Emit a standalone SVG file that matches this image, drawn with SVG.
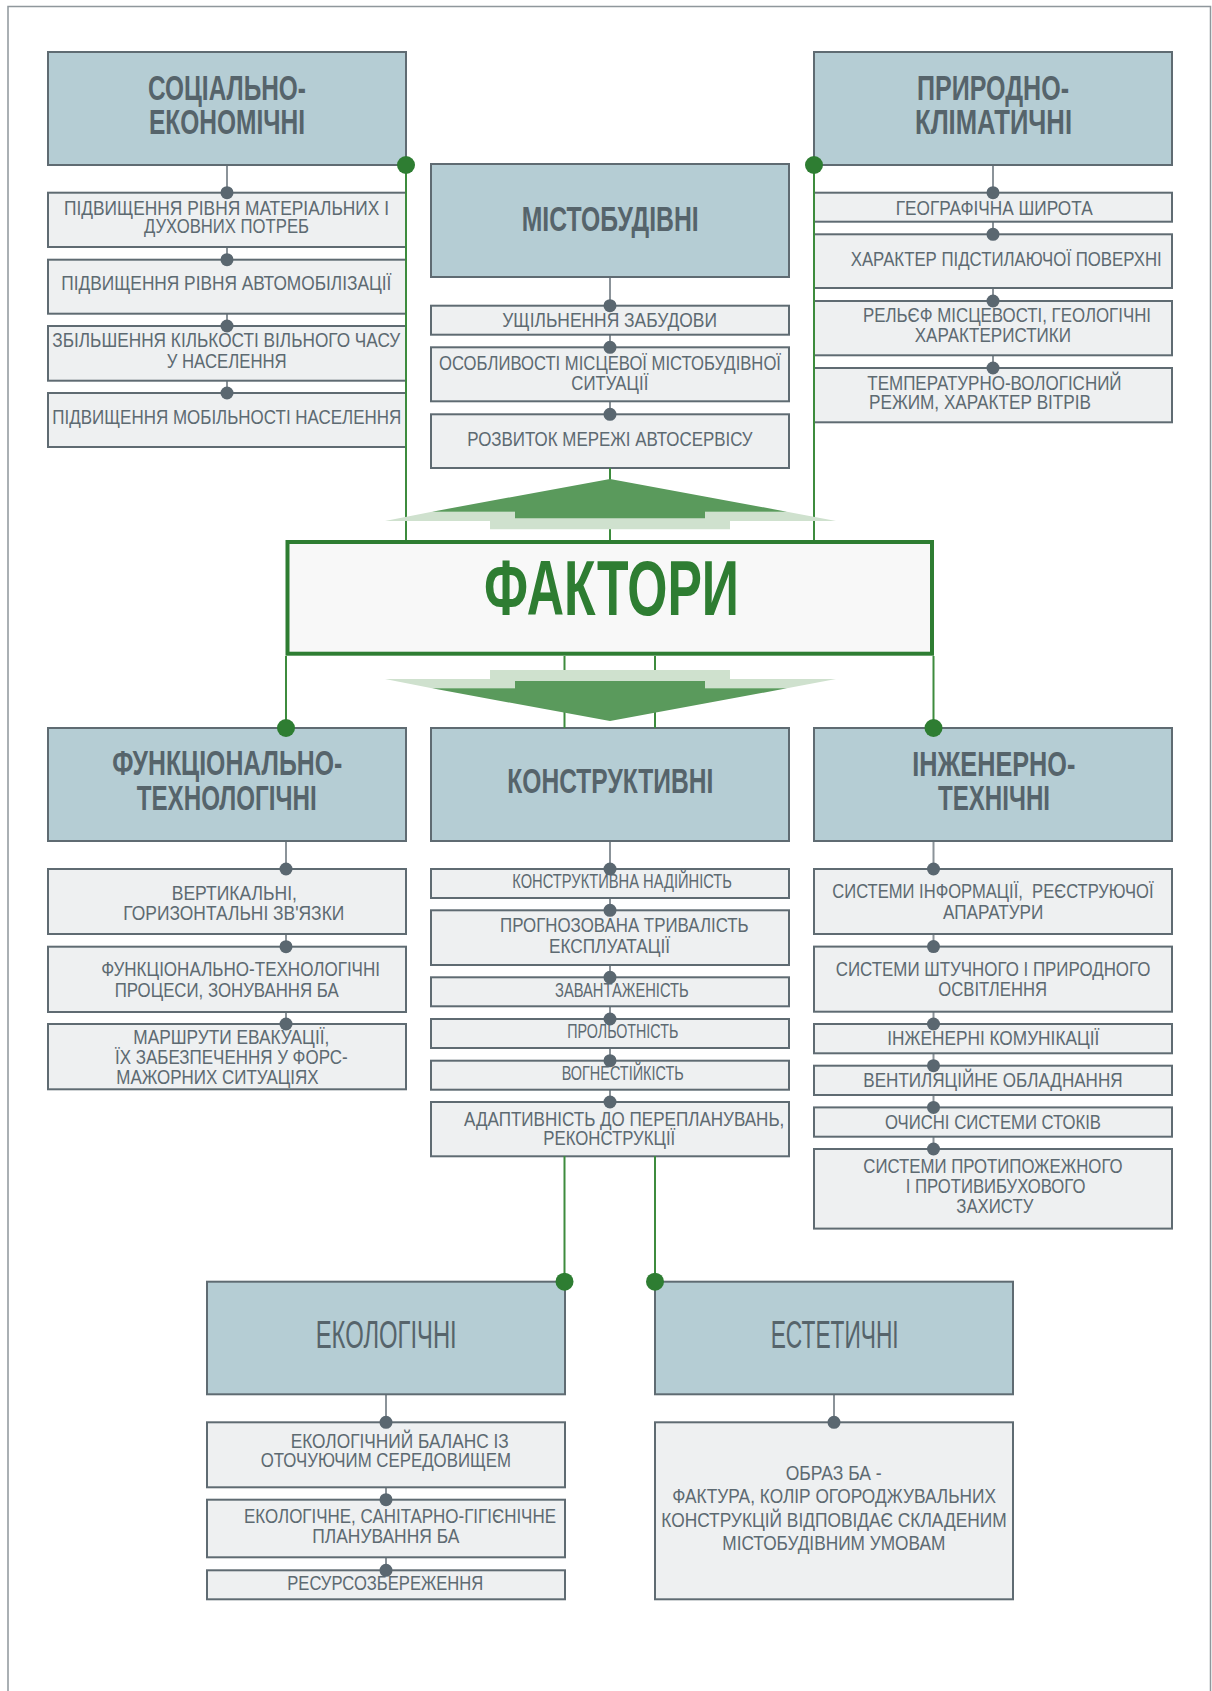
<svg xmlns="http://www.w3.org/2000/svg" width="1212" height="1691" viewBox="0 0 1212 1691">
  <style>
    .hdr { fill: #b5cdd4; stroke: #5f6b72; stroke-width: 2; }
    .sub { fill: #eef0f1; stroke: #5f6b72; stroke-width: 2; }
    .ht { font-family: "Liberation Sans", Arial, sans-serif; font-weight: bold; font-size: 35px; fill: #56646b; }
    .hr { font-family: "Liberation Sans", Arial, sans-serif; font-size: 39px; fill: #56646b; }
    .st { font-family: "Liberation Sans", Arial, sans-serif; font-size: 21px; fill: #5d6a71; }
    .gray { stroke: #8b9399; stroke-width: 2; fill: none; }
    .green { stroke: #3d8b3d; stroke-width: 2; fill: none; }
    .dot { fill: #5a6770; }
    .gdot { fill: #2e7d32; }
    .dark { fill: #5a9a5c; }
    .light { fill: #cfe1ce; }
  </style>

  <!-- page frame -->
  <path d="M8,1691 V6.5 H1210.5 V1691" fill="none" stroke="#8f979c" stroke-width="1.5"/>

  <!-- gray spines behind the item boxes -->
  <g id="connectors-under" class="gray">
    <line x1="227" y1="165" x2="227" y2="393"/>
    <line x1="610" y1="277" x2="610" y2="414"/>
    <line x1="993" y1="165" x2="993" y2="368"/>
    <line x1="286" y1="841" x2="286" y2="1024"/>
    <line x1="610" y1="841" x2="610" y2="1102"/>
    <line x1="933.5" y1="841" x2="933.5" y2="1149"/>
    <line x1="386" y1="1394" x2="386" y2="1570"/>
    <line x1="834" y1="1394" x2="834" y2="1422"/>
  </g>

  <g id="socio-economic">
    <rect class="hdr" x="48" y="52" width="358" height="113"/>
    <text class="ht" x="148" y="100" textLength="158" lengthAdjust="spacingAndGlyphs">СОЦІАЛЬНО-</text>
    <text class="ht" x="149" y="134" textLength="156" lengthAdjust="spacingAndGlyphs">ЕКОНОМІЧНІ</text>
    <rect class="sub" x="48" y="192.7" width="358" height="54.3"/>
    <text class="st" x="64" y="215" textLength="325" lengthAdjust="spacingAndGlyphs">ПІДВИЩЕННЯ РІВНЯ МАТЕРІАЛЬНИХ І</text>
    <text class="st" x="144" y="232.5" textLength="165" lengthAdjust="spacingAndGlyphs">ДУХОВНИХ ПОТРЕБ</text>
    <rect class="sub" x="48" y="259.7" width="358" height="54"/>
    <text class="st" x="61.3" y="290" textLength="330" lengthAdjust="spacingAndGlyphs">ПІДВИЩЕННЯ РІВНЯ АВТОМОБІЛІЗАЦІЇ</text>
    <rect class="sub" x="48" y="326" width="358" height="54.7"/>
    <text class="st" x="52.3" y="347" textLength="348" lengthAdjust="spacingAndGlyphs">ЗБІЛЬШЕННЯ КІЛЬКОСТІ ВІЛЬНОГО ЧАСУ</text>
    <text class="st" x="166.7" y="368" textLength="120" lengthAdjust="spacingAndGlyphs">У НАСЕЛЕННЯ</text>
    <rect class="sub" x="48" y="393" width="358" height="54"/>
    <text class="st" x="52.3" y="423.5" textLength="349" lengthAdjust="spacingAndGlyphs">ПІДВИЩЕННЯ МОБІЛЬНОСТІ НАСЕЛЕННЯ</text>
  </g>

  <g id="urban-planning">
    <rect class="hdr" x="431" y="164" width="358" height="113"/>
    <text class="ht" x="521.7" y="231" textLength="177" lengthAdjust="spacingAndGlyphs">МІСТОБУДІВНІ</text>
    <rect class="sub" x="431" y="305.7" width="358" height="29"/>
    <text class="st" x="502.3" y="326.5" textLength="214.7" lengthAdjust="spacingAndGlyphs">УЩІЛЬНЕННЯ ЗАБУДОВИ</text>
    <rect class="sub" x="431" y="347.3" width="358" height="54"/>
    <text class="st" x="439" y="370" textLength="342" lengthAdjust="spacingAndGlyphs">ОСОБЛИВОСТІ МІСЦЕВОЇ МІСТОБУДІВНОЇ</text>
    <text class="st" x="571.3" y="390" textLength="77" lengthAdjust="spacingAndGlyphs">СИТУАЦІЇ</text>
    <rect class="sub" x="431" y="414.3" width="358" height="53.7"/>
    <text class="st" x="467.3" y="446" textLength="285.3" lengthAdjust="spacingAndGlyphs">РОЗВИТОК МЕРЕЖІ АВТОСЕРВІСУ</text>
  </g>

  <g id="natural-climatic">
    <rect class="hdr" x="814" y="52" width="358" height="113"/>
    <text class="ht" x="917" y="100" textLength="152" lengthAdjust="spacingAndGlyphs">ПРИРОДНО-</text>
    <text class="ht" x="915" y="134" textLength="157" lengthAdjust="spacingAndGlyphs">КЛІМАТИЧНІ</text>
    <rect class="sub" x="814" y="192.7" width="358" height="29"/>
    <text class="st" x="895.7" y="215" textLength="197" lengthAdjust="spacingAndGlyphs">ГЕОГРАФІЧНА ШИРОТА</text>
    <rect class="sub" x="814" y="234.3" width="358" height="53.7"/>
    <text class="st" x="850.7" y="265.5" textLength="311" lengthAdjust="spacingAndGlyphs">ХАРАКТЕР ПІДСТИЛАЮЧОЇ ПОВЕРХНІ</text>
    <rect class="sub" x="814" y="301" width="358" height="54.3"/>
    <text class="st" x="863" y="321.5" textLength="288" lengthAdjust="spacingAndGlyphs">РЕЛЬЄФ МІСЦЕВОСТІ, ГЕОЛОГІЧНІ</text>
    <text class="st" x="914.7" y="342" textLength="156.3" lengthAdjust="spacingAndGlyphs">ХАРАКТЕРИСТИКИ</text>
    <rect class="sub" x="814" y="368" width="358" height="54.3"/>
    <text class="st" x="867.3" y="390" textLength="254.3" lengthAdjust="spacingAndGlyphs">ТЕМПЕРАТУРНО-ВОЛОГІСНИЙ</text>
    <text class="st" x="869" y="409" textLength="222" lengthAdjust="spacingAndGlyphs">РЕЖИМ, ХАРАКТЕР ВІТРІВ</text>
  </g>

  <g id="factors">
    <rect x="287.5" y="542" width="644.5" height="111.7" fill="#f8f8f8" stroke="#2e7d32" stroke-width="4"/>
    <text x="484" y="615" textLength="255" lengthAdjust="spacingAndGlyphs" font-family="'Liberation Sans', Arial, sans-serif" font-weight="bold" font-size="77" fill="#2e7d32">ФАКТОРИ</text>
  </g>

  <g id="functional-technological">
    <rect class="hdr" x="48" y="728" width="358" height="113"/>
    <text class="ht" x="112.3" y="775" textLength="230" lengthAdjust="spacingAndGlyphs">ФУНКЦІОНАЛЬНО-</text>
    <text class="ht" x="136.7" y="810" textLength="180" lengthAdjust="spacingAndGlyphs">ТЕХНОЛОГІЧНІ</text>
    <rect class="sub" x="48" y="869" width="358" height="65"/>
    <text class="st" x="171.7" y="900" textLength="125.3" lengthAdjust="spacingAndGlyphs">ВЕРТИКАЛЬНІ,</text>
    <text class="st" x="123.3" y="920" textLength="221" lengthAdjust="spacingAndGlyphs">ГОРИЗОНТАЛЬНІ ЗВ'ЯЗКИ</text>
    <rect class="sub" x="48" y="946.7" width="358" height="65.3"/>
    <text class="st" x="101.3" y="976" textLength="278.7" lengthAdjust="spacingAndGlyphs">ФУНКЦІОНАЛЬНО-ТЕХНОЛОГІЧНІ</text>
    <text class="st" x="114.7" y="996.5" textLength="224" lengthAdjust="spacingAndGlyphs">ПРОЦЕСИ, ЗОНУВАННЯ БА</text>
    <rect class="sub" x="48" y="1024" width="358" height="65.3"/>
    <text class="st" x="133.3" y="1044" textLength="196" lengthAdjust="spacingAndGlyphs">МАРШРУТИ ЕВАКУАЦІЇ,</text>
    <text class="st" x="115" y="1064" textLength="232.7" lengthAdjust="spacingAndGlyphs">ЇХ ЗАБЕЗПЕЧЕННЯ У ФОРС-</text>
    <text class="st" x="116.3" y="1084" textLength="202.3" lengthAdjust="spacingAndGlyphs">МАЖОРНИХ СИТУАЦІЯХ</text>
  </g>

  <g id="structural">
    <rect class="hdr" x="431" y="728" width="358" height="113"/>
    <text class="ht" x="507.3" y="793.3" textLength="206" lengthAdjust="spacingAndGlyphs">КОНСТРУКТИВНІ</text>
    <rect class="sub" x="431" y="869" width="358" height="29"/>
    <text class="st" x="512.3" y="888.3" font-size="19" textLength="219.7" lengthAdjust="spacingAndGlyphs">КОНСТРУКТИВНА НАДІЙНІСТЬ</text>
    <rect class="sub" x="431" y="910.3" width="358" height="54.7"/>
    <text class="st" x="500" y="932.3" textLength="248.7" lengthAdjust="spacingAndGlyphs">ПРОГНОЗОВАНА ТРИВАЛІСТЬ</text>
    <text class="st" x="549" y="953.3" textLength="121" lengthAdjust="spacingAndGlyphs">ЕКСПЛУАТАЦІЇ</text>
    <rect class="sub" x="431" y="977.3" width="358" height="29"/>
    <text class="st" x="555" y="996.7" textLength="133.7" lengthAdjust="spacingAndGlyphs">ЗАВАНТАЖЕНІСТЬ</text>
    <rect class="sub" x="431" y="1019" width="358" height="29"/>
    <text class="st" x="567.3" y="1037.7" textLength="111" lengthAdjust="spacingAndGlyphs">ПРОЛЬОТНІСТЬ</text>
    <rect class="sub" x="431" y="1060.7" width="358" height="29"/>
    <text class="st" x="561.7" y="1080" textLength="122" lengthAdjust="spacingAndGlyphs">ВОГНЕСТІЙКІСТЬ</text>
    <rect class="sub" x="431" y="1102" width="358" height="54.3"/>
    <text class="st" x="464" y="1126" textLength="320.3" lengthAdjust="spacingAndGlyphs">АДАПТИВНІСТЬ ДО ПЕРЕПЛАНУВАНЬ,</text>
    <text class="st" x="543.3" y="1145" textLength="132" lengthAdjust="spacingAndGlyphs">РЕКОНСТРУКЦІЇ</text>
  </g>

  <g id="engineering-technical">
    <rect class="hdr" x="814" y="728" width="358" height="113"/>
    <text class="ht" x="912.3" y="775.8" textLength="163" lengthAdjust="spacingAndGlyphs">ІНЖЕНЕРНО-</text>
    <text class="ht" x="938" y="810" textLength="112" lengthAdjust="spacingAndGlyphs">ТЕХНІЧНІ</text>
    <rect class="sub" x="814" y="869" width="358" height="65"/>
    <text class="st" x="832.3" y="898" textLength="321.3" lengthAdjust="spacingAndGlyphs" xml:space="preserve">СИСТЕМИ ІНФОРМАЦІЇ,  РЕЄСТРУЮЧОЇ</text>
    <text class="st" x="943" y="918.7" textLength="100.3" lengthAdjust="spacingAndGlyphs">АПАРАТУРИ</text>
    <rect class="sub" x="814" y="946.6" width="358" height="65.1"/>
    <text class="st" x="835.7" y="975.5" textLength="314.7" lengthAdjust="spacingAndGlyphs">СИСТЕМИ ШТУЧНОГО І ПРИРОДНОГО</text>
    <text class="st" x="938.3" y="996" textLength="108.7" lengthAdjust="spacingAndGlyphs">ОСВІТЛЕННЯ</text>
    <rect class="sub" x="814" y="1024" width="358" height="29.3"/>
    <text class="st" x="887.3" y="1045" textLength="212" lengthAdjust="spacingAndGlyphs">ІНЖЕНЕРНІ КОМУНІКАЦІЇ</text>
    <rect class="sub" x="814" y="1065.7" width="358" height="29.3"/>
    <text class="st" x="863.3" y="1087" textLength="259.3" lengthAdjust="spacingAndGlyphs">ВЕНТИЛЯЦІЙНЕ ОБЛАДНАННЯ</text>
    <rect class="sub" x="814" y="1107.4" width="358" height="29.3"/>
    <text class="st" x="885" y="1128.5" textLength="216" lengthAdjust="spacingAndGlyphs">ОЧИСНІ СИСТЕМИ СТОКІВ</text>
    <rect class="sub" x="814" y="1149" width="358" height="79.6"/>
    <text class="st" x="863.3" y="1172.5" textLength="259.3" lengthAdjust="spacingAndGlyphs">СИСТЕМИ ПРОТИПОЖЕЖНОГО</text>
    <text class="st" x="905.7" y="1193" textLength="179.7" lengthAdjust="spacingAndGlyphs">І ПРОТИВИБУХОВОГО</text>
    <text class="st" x="956.3" y="1213" textLength="77" lengthAdjust="spacingAndGlyphs">ЗАХИСТУ</text>
  </g>

  <g id="ecological">
    <rect class="hdr" x="207" y="1281.7" width="358" height="112.6"/>
    <text class="hr" x="315.7" y="1348.3" textLength="141" lengthAdjust="spacingAndGlyphs">ЕКОЛОГІЧНІ</text>
    <rect class="sub" x="207" y="1422.3" width="358" height="65"/>
    <text class="st" x="290.7" y="1447.7" textLength="218" lengthAdjust="spacingAndGlyphs">ЕКОЛОГІЧНИЙ БАЛАНС ІЗ</text>
    <text class="st" x="260.7" y="1467" textLength="250.3" lengthAdjust="spacingAndGlyphs">ОТОЧУЮЧИМ СЕРЕДОВИЩЕМ</text>
    <rect class="sub" x="207" y="1499.7" width="358" height="57.6"/>
    <text class="st" x="244" y="1522.7" textLength="312" lengthAdjust="spacingAndGlyphs">ЕКОЛОГІЧНЕ, САНІТАРНО-ГІГІЄНІЧНЕ</text>
    <text class="st" x="312.3" y="1543.3" textLength="147" lengthAdjust="spacingAndGlyphs">ПЛАНУВАННЯ БА</text>
    <rect class="sub" x="207" y="1570.3" width="358" height="29"/>
    <text class="st" x="287.3" y="1590" textLength="196" lengthAdjust="spacingAndGlyphs">РЕСУРСОЗБЕРЕЖЕННЯ</text>
  </g>

  <g id="aesthetic">
    <rect class="hdr" x="655" y="1281.7" width="358" height="112.6"/>
    <text class="hr" x="770.7" y="1348.3" textLength="128" lengthAdjust="spacingAndGlyphs">ЕСТЕТИЧНІ</text>
    <rect class="sub" x="655" y="1422.3" width="358" height="177"/>
    <text class="st" x="785.7" y="1480" textLength="96" lengthAdjust="spacingAndGlyphs">ОБРАЗ БА -</text>
    <text class="st" x="672.3" y="1503" textLength="323.7" lengthAdjust="spacingAndGlyphs">ФАКТУРА, КОЛІР ОГОРОДЖУВАЛЬНИХ</text>
    <text class="st" x="661.3" y="1526.7" textLength="345.3" lengthAdjust="spacingAndGlyphs">КОНСТРУКЦІЙ ВІДПОВІДАЄ СКЛАДЕНИМ</text>
    <text class="st" x="722.3" y="1550" textLength="223" lengthAdjust="spacingAndGlyphs">МІСТОБУДІВНИМ УМОВАМ</text>
  </g>

  <!-- green links to the central block, drawn over box edges -->
  <g id="connectors-over">
    <g class="green">
      <line x1="406" y1="165" x2="406" y2="540"/>
      <line x1="814" y1="165" x2="814" y2="540"/>
      <line x1="610" y1="468" x2="610" y2="540"/>
      <line x1="286" y1="656" x2="286" y2="728"/>
      <line x1="933.5" y1="656" x2="933.5" y2="728"/>
      <line x1="564.5" y1="656" x2="564.5" y2="728"/>
      <line x1="655" y1="656" x2="655" y2="728"/>
      <line x1="564.5" y1="1156" x2="564.5" y2="1281.7"/>
      <line x1="655" y1="1156" x2="655" y2="1281.7"/>
    </g>
    <!-- upward arrow into the central block -->
    <polygon class="light" points="385,521 432,511.7 787,511.7 836,521 730,521 730,529.3 490,529.3 490,521"/>
    <polygon class="dark" points="610,479 787,511.7 705,511.7 705,518.3 515,518.3 515,511.7 432,511.7"/>
    <!-- downward arrow out of the central block -->
    <polygon class="light" points="490,670 730,670 730,679 836,679 787,688.3 432,688.3 385,679 490,679"/>
    <polygon class="dark" points="515,681 705,681 705,688.3 787,688.3 610,721 432,688.3 515,688.3"/>
  </g>

  <g id="link-ends">
    <g class="gdot">
      <circle cx="406" cy="165" r="9"/>
      <circle cx="814" cy="165" r="9"/>
      <circle cx="286" cy="728" r="9"/>
      <circle cx="933.5" cy="728" r="9"/>
      <circle cx="564.5" cy="1281.7" r="9"/>
      <circle cx="655" cy="1281.7" r="9"/>
    </g>
    <g class="dot">
      <circle cx="227" cy="192.7" r="6.5"/>
      <circle cx="227" cy="259.7" r="6.5"/>
      <circle cx="227" cy="326" r="6.5"/>
      <circle cx="227" cy="393" r="6.5"/>
      <circle cx="610" cy="305.7" r="6.5"/>
      <circle cx="610" cy="347.3" r="6.5"/>
      <circle cx="610" cy="414.3" r="6.5"/>
      <circle cx="993" cy="192.7" r="6.5"/>
      <circle cx="993" cy="234.3" r="6.5"/>
      <circle cx="993" cy="301" r="6.5"/>
      <circle cx="993" cy="368" r="6.5"/>
      <circle cx="286" cy="869" r="6.5"/>
      <circle cx="286" cy="946.7" r="6.5"/>
      <circle cx="286" cy="1024" r="6.5"/>
      <circle cx="610" cy="869" r="6.5"/>
      <circle cx="610" cy="910.3" r="6.5"/>
      <circle cx="610" cy="977.3" r="6.5"/>
      <circle cx="610" cy="1019" r="6.5"/>
      <circle cx="610" cy="1060.7" r="6.5"/>
      <circle cx="610" cy="1102" r="6.5"/>
      <circle cx="933.5" cy="869" r="6.5"/>
      <circle cx="933.5" cy="946.6" r="6.5"/>
      <circle cx="933.5" cy="1024" r="6.5"/>
      <circle cx="933.5" cy="1065.7" r="6.5"/>
      <circle cx="933.5" cy="1107.4" r="6.5"/>
      <circle cx="933.5" cy="1149" r="6.5"/>
      <circle cx="386" cy="1422.3" r="6.5"/>
      <circle cx="386" cy="1499.7" r="6.5"/>
      <circle cx="386" cy="1570.3" r="6.5"/>
      <circle cx="834" cy="1422.3" r="6.5"/>
    </g>
  </g>
</svg>
